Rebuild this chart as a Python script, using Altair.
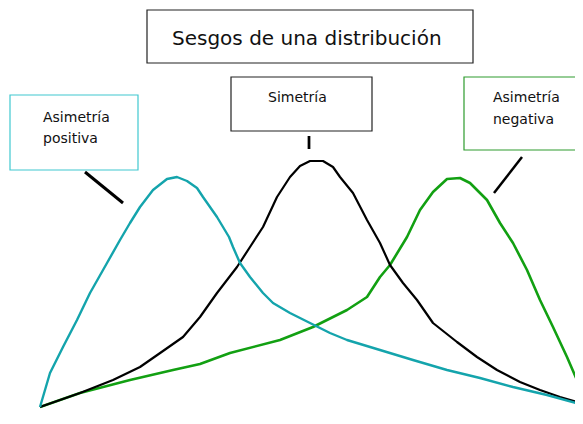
import altair as alt
import pandas as pd

# Curve points (reference pixel coordinates)
teal_x = [40, 50, 63, 77, 90, 107, 120, 130, 140, 153, 167, 177, 187, 197, 203, 210, 217, 223, 229, 233, 240, 250, 263, 273, 290, 310, 330, 347, 380, 413, 447, 480, 513, 547, 583]
teal_y = [407, 373, 347, 320, 293, 263, 240, 223, 207, 190, 179, 177, 181, 188, 197, 207, 217, 227, 237, 247, 263, 277, 293, 303, 313, 323, 333, 340, 350, 360, 370, 378, 387, 395, 405]

black_x = [40, 60, 80, 113, 140, 163, 183, 200, 217, 237, 250, 263, 277, 290, 300, 310, 323, 333, 340, 353, 367, 380, 390, 403, 417, 433, 457, 477, 497, 520, 540, 560, 580]
black_y = [407, 400, 393, 380, 367, 351, 337, 317, 293, 267, 247, 227, 197, 177, 166, 161, 161, 167, 177, 193, 220, 243, 265, 283, 300, 323, 342, 357, 370, 382, 390, 397, 403]

green_x = [40, 80, 130, 173, 200, 230, 280, 313, 347, 367, 380, 390, 407, 420, 433, 447, 460, 470, 487, 500, 513, 527, 540, 553, 567, 580]
green_y = [407, 393, 380, 370, 364, 353, 340, 327, 310, 297, 277, 265, 237, 210, 192, 179, 178, 183, 200, 223, 243, 270, 300, 327, 357, 387]

# Boxes
box_names = ["title", "pos", "sim", "neg"]
box_x1 = [147, 10, 231, 464]
box_x2 = [473, 138, 372, 595]
box_y1 = [10, 95, 77, 77]
box_y2 = [63, 170, 131, 150]

# Labels (left edge of each text)
labels = ["Sesgos de una distribución", "Asimetría", "positiva", "Simetría", "Asimetría", "negativa"]
label_kind = ["title", "box", "box", "box", "box", "box"]
label_x = [172, 43, 43, 268, 493, 493]
label_y = [39, 118, 139, 98, 98, 120]

# Connectors
conn_names = ["pos", "sim", "neg"]
conn_x1 = [85, 309, 522]
conn_y1 = [172, 136, 157]
conn_x2 = [123, 309, 494]
conn_y2 = [203, 149, 193]

xs = alt.Scale(domain=[8, 575], nice=False, zero=False)
ys = alt.Scale(domain=[8, 416], nice=False, zero=False, reverse=True)


def curve(xv, yv, color, w):
    df = pd.DataFrame({"x": xv, "y": yv, "i": list(range(len(xv)))})
    return alt.Chart(df).mark_line(color=color, strokeWidth=w, strokeJoin="round").encode(
        x=alt.X("x:Q", scale=xs, axis=None),
        y=alt.Y("y:Q", scale=ys, axis=None),
        order="i:Q",
    )


boxes = pd.DataFrame({"name": box_names, "x1": box_x1, "x2": box_x2, "y1": box_y1, "y2": box_y2})
box_layer = alt.Chart(boxes).mark_rect(fill="white", strokeWidth=1.2).encode(
    x=alt.X("x1:Q", scale=xs, axis=None),
    x2="x2:Q",
    y=alt.Y("y1:Q", scale=ys, axis=None),
    y2="y2:Q",
    stroke=alt.Stroke("name:N", scale=alt.Scale(domain=box_names, range=["#222222", "#40C8D0", "#222222", "#2E9B2E"]), legend=None),
)

conns = pd.DataFrame({"name": conn_names, "x1": conn_x1, "x2": conn_x2, "y1": conn_y1, "y2": conn_y2})
conn_layer = alt.Chart(conns).mark_rule(color="black").encode(
    x=alt.X("x1:Q", scale=xs, axis=None),
    x2="x2:Q",
    y=alt.Y("y1:Q", scale=ys, axis=None),
    y2="y2:Q",
    strokeWidth=alt.StrokeWidth("name:N", scale=alt.Scale(domain=conn_names, range=[3, 2.5, 1.3]), legend=None),
)

text_df = pd.DataFrame({"t": labels, "k": label_kind, "x": label_x, "y": label_y, "i": list(range(len(labels)))})
text_layer = alt.Chart(text_df).mark_text(font="DejaVu Sans", align="left", baseline="middle", color="#111111").encode(
    x=alt.X("x:Q", scale=xs, axis=None),
    y=alt.Y("y:Q", scale=ys, axis=None),
    text="t:N",
    size=alt.Size("k:N", scale=alt.Scale(domain=["title", "box"], range=[20, 14]), legend=None),
    detail="i:N",
)

chart = alt.layer(
    curve(green_x, green_y, "#12A012", 2.6),
    curve(black_x, black_y, "#000000", 2.2),
    curve(teal_x, teal_y, "#14A4AC", 2.4),
    conn_layer,
    box_layer,
    text_layer,
).properties(
    width=567, height=408, padding=0,
    autosize=alt.AutoSizeParams(type="none"),
    background="white",
).configure_view(stroke=None)

chart.save("out.html", embed_options={"renderer": "svg", "actions": False})
